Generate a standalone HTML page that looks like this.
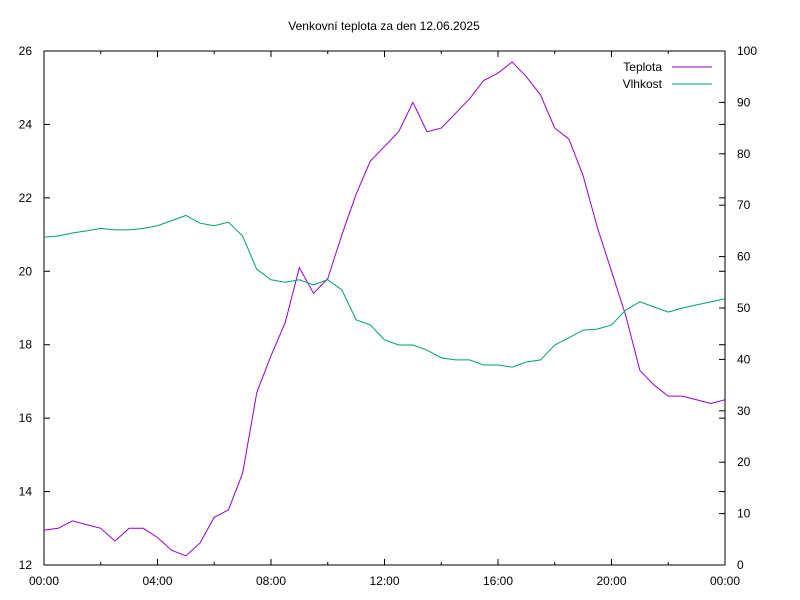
<!DOCTYPE html>
<html><head><meta charset="utf-8"><style>body{margin:0;background:#fff}svg{display:block;font-family:"Liberation Sans",sans-serif}</style></head>
<body>
<svg id="chart" width="800" height="600">
<text x="384" y="30" font-size="12" text-anchor="middle">Venkovní teplota za den 12.06.2025</text>
<g id="axes"></g>
<g id="series"></g>
<g>
<text x="662" y="71" font-size="12" text-anchor="end">Teplota</text>
<line x1="672" y1="67" x2="712" y2="67" stroke="#9400d3"/>
<text x="662" y="88" font-size="12" text-anchor="end">Vlhkost</text>
<line x1="672" y1="84" x2="712" y2="84" stroke="#009e73"/>
</g>
</svg>
<script>
const hours=[0,0.5,1,1.5,2,2.5,3,3.5,4,4.5,5,5.5,6,6.5,7,7.5,8,8.5,9,9.5,10,10.5,11,11.5,12,12.5,13,13.5,14,14.5,15,15.5,16,16.5,17,17.5,18,18.5,19,19.5,20,20.5,21,21.5,22,22.5,23,23.5,24];
const teplota=[12.95,13.0,13.2,13.1,13.0,12.65,13.0,13.0,12.75,12.4,12.25,12.6,13.3,13.5,14.5,16.7,17.7,18.6,20.1,19.4,19.8,21.0,22.1,23.0,23.4,23.8,24.6,23.8,23.9,24.3,24.7,25.2,25.4,25.7,25.3,24.8,23.9,23.6,22.6,21.2,20.0,18.8,17.3,16.9,16.6,16.6,16.5,16.4,16.5];
const vlhkost=[63.8,64,64.6,65,65.5,65.2,65.2,65.5,66,67,68,66.5,66,66.7,64,57.5,55.5,55,55.5,54.5,55.5,53.5,47.7,46.7,43.8,42.8,42.8,41.8,40.3,39.9,39.9,38.9,38.9,38.5,39.5,39.9,42.8,44.2,45.7,45.9,46.7,49.6,51.2,50.2,49.2,50,50.6,51.2,51.8];
const xTicks=["00:00","04:00","08:00","12:00","16:00","20:00","00:00"];
const yLeftTicks=[12,14,16,18,20,22,24,26];
const yRightTicks=[0,10,20,30,40,50,60,70,80,90,100];
const L=44,R=725,T=51,B=565,NS="http://www.w3.org/2000/svg";
const x=h=>L+(R-L)*h/24;
const yL=v=>B-(v-12)/(26-12)*(B-T);
const yR=v=>B-v/100*(B-T);
const axes=document.getElementById('axes'),series=document.getElementById('series');
function mk(tag,attrs,parent){const e=document.createElementNS(NS,tag);for(const k in attrs)e.setAttribute(k,attrs[k]);parent.appendChild(e);return e;}
const frame=mk('rect',{x:L,y:T,width:R-L,height:B-T,fill:'none',stroke:'#000'},axes);


for(let h=0;h<=24;h+=2){const major=h%4===0;const len=major?6:3;
 const t1=mk('line',{x1:x(h),y1:B,x2:x(h),y2:B-len,stroke:'#000'},axes);
 
 
 const t2=mk('line',{x1:x(h),y1:T,x2:x(h),y2:T+len,stroke:'#000'},axes);
 
 }
xTicks.forEach((lab,i)=>{const t=mk('text',{x:x(i*4),y:B+20,'font-size':12,'text-anchor':'middle'},axes);t.textContent=lab;
 
 });
yLeftTicks.forEach(v=>{const y=yL(v);
 const a=mk('line',{x1:L,y1:y,x2:L+6,y2:y,stroke:'#000'},axes);
 
 
 const b=mk('line',{x1:R,y1:y,x2:R-6,y2:y,stroke:'#000'},axes);
 
 
 const t=mk('text',{x:L-12,y:y+4,'font-size':12,'text-anchor':'end'},axes);t.textContent=v;
 
 });
yRightTicks.forEach(v=>{const y=yR(v);
 const a=mk('line',{x1:R,y1:y,x2:R-6,y2:y,stroke:'#000'},axes);
 
 
 const t=mk('text',{x:R+12,y:y+4,'font-size':12,'text-anchor':'start'},axes);t.textContent=v;
 
 });
const p1=mk('polyline',{points:hours.map((h,i)=>x(h)+','+yL(teplota[i])).join(' '),fill:'none',stroke:'#9400d3','stroke-width':1},series);


const p2=mk('polyline',{points:hours.map((h,i)=>x(h)+','+yR(vlhkost[i])).join(' '),fill:'none',stroke:'#009e73','stroke-width':1},series);


</script>
</body></html>
